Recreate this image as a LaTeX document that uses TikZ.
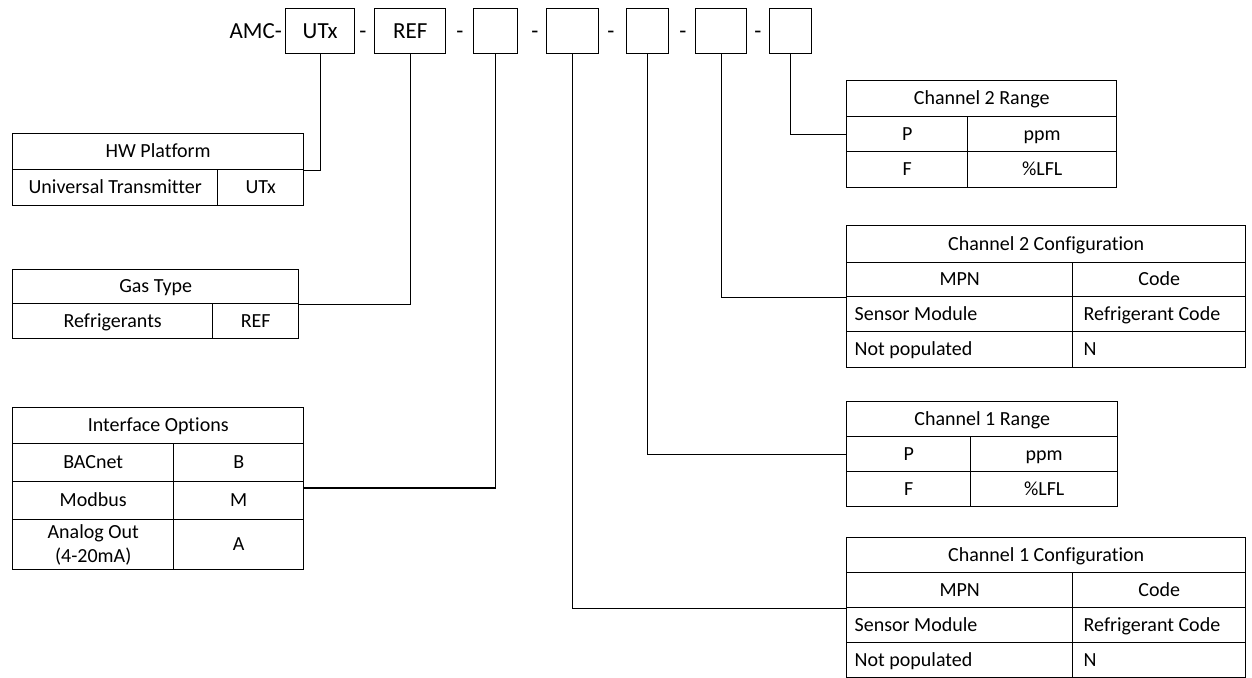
\documentclass[tikz,border=0pt]{standalone}
\usepackage{fontspec}
\setmainfont{Carlito}[Ligatures=NoCommon]

\begin{document}
\begin{tikzpicture}[
    x=1pt, y=-1pt,
    font=\fontsize{20}{24}\selectfont,
    slot/.style={rectangle, draw=black, line width=1.4pt, anchor=north west, inner sep=0pt, minimum height=45, font=\fontsize{23}{26}\selectfont},
    hyph/.style={inner sep=0pt, anchor=base, font=\fontsize{23}{26}\selectfont},
    cell/.style={rectangle, draw=black, line width=1.4pt, anchor=north west, inner sep=0pt, align=center, text height=15pt, text depth=3pt},
    tallcell/.style={rectangle, draw=black, line width=1.4pt, anchor=north west, inner sep=0pt, align=center},
    lcell/.style={cell, align=flush left},
    edge_style/.style={draw=black, line width=1.4pt}
]
\useasboundingbox (0,0) rectangle (1252,677);

% Part number
\node[hyph, anchor=base east] (amc) at (282, 38) {AMC-};
\node[slot, minimum width=69] (utx) at (285, 8) {UTx};
\node[hyph] (h1) at (363, 38) {-};
\node[slot, minimum width=71] (ref) at (374, 8) {REF};
\node[hyph] (h2) at (460, 38) {-};
\node[slot, minimum width=44] (ifslot) at (473, 8) {};
\node[hyph] (h3) at (535, 38) {-};
\node[slot, minimum width=52] (cfg1slot) at (546, 8) {};
\node[hyph] (h4) at (611, 38) {-};
\node[slot, minimum width=42] (rng1slot) at (626, 8) {};
\node[hyph] (h5) at (683, 38) {-};
\node[slot, minimum width=51] (cfg2slot) at (695, 8) {};
\node[hyph] (h6) at (758, 38) {-};
\node[slot, minimum width=42] (rng2slot) at (769, 8) {};

% HW platform
\node[cell, minimum width=291, minimum height=36] (hw) at (12, 133) {HW Platform};
\node[cell, minimum width=205, minimum height=36] (hwname) at (12, 169) {Universal Transmitter};
\node[cell, minimum width=86, minimum height=36] (hwcode) at (217, 169) {UTx};

% Gas type
\node[cell, minimum width=286, minimum height=34] (gas) at (12, 269) {Gas Type};
\node[cell, minimum width=200, minimum height=35] (gasname) at (12, 303) {Refrigerants};
\node[cell, minimum width=86, minimum height=35] (gascode) at (212, 303) {REF};

% Interface options
\node[cell, minimum width=291, minimum height=36] (iface) at (12, 407) {Interface Options};
\node[cell, minimum width=161, minimum height=38] (bac) at (12, 443) {BACnet};
\node[cell, minimum width=130, minimum height=38] (baccode) at (173, 443) {B};
\node[cell, minimum width=161, minimum height=38] (mod) at (12, 481) {Modbus};
\node[cell, minimum width=130, minimum height=38] (modcode) at (173, 481) {M};
\node[tallcell, minimum width=161, minimum height=50] (ana) at (12, 519) {Analog Out\\(4-20mA)};
\node[cell, minimum width=130, minimum height=50] (anacode) at (173, 519) {A};

% Channel 2 range
\node[cell, minimum width=270, minimum height=36] (rng2) at (846, 80) {Channel 2 Range};
\node[cell, minimum width=121, minimum height=35] (rng2p) at (846, 116) {P};
\node[cell, minimum width=149, minimum height=35] (rng2ppm) at (967, 116) {ppm};
\node[cell, minimum width=121, minimum height=36] (rng2f) at (846, 151) {F};
\node[cell, minimum width=149, minimum height=36] (rng2lfl) at (967, 151) {\%LFL};

% Channel 2 configuration
\node[cell, minimum width=399, minimum height=37] (cfg2) at (846, 225) {Channel 2 Configuration};
\node[cell, minimum width=226, minimum height=34] (cfg2mpn) at (846, 262) {MPN};
\node[cell, minimum width=173, minimum height=34] (cfg2code) at (1072, 262) {Code};
\node[lcell, minimum width=226, minimum height=35, text width=210pt] (cfg2sm) at (846, 296) {Sensor Module};
\node[lcell, minimum width=173, minimum height=35, text width=151pt] (cfg2rc) at (1072, 296) {Refrigerant Code};
\node[lcell, minimum width=226, minimum height=36, text width=210pt] (cfg2np) at (846, 331) {Not populated};
\node[lcell, minimum width=173, minimum height=36, text width=151pt] (cfg2n) at (1072, 331) {N};

% Channel 1 range
\node[cell, minimum width=271, minimum height=35] (rng1) at (846, 401) {Channel 1 Range};
\node[cell, minimum width=124, minimum height=35] (rng1p) at (846, 436) {P};
\node[cell, minimum width=147, minimum height=35] (rng1ppm) at (970, 436) {ppm};
\node[cell, minimum width=124, minimum height=35] (rng1f) at (846, 471) {F};
\node[cell, minimum width=147, minimum height=35] (rng1lfl) at (970, 471) {\%LFL};

% Channel 1 configuration
\node[cell, minimum width=399, minimum height=35] (cfg1) at (846, 537) {Channel 1 Configuration};
\node[cell, minimum width=226, minimum height=35] (cfg1mpn) at (846, 572) {MPN};
\node[cell, minimum width=173, minimum height=35] (cfg1code) at (1072, 572) {Code};
\node[lcell, minimum width=226, minimum height=35, text width=210pt] (cfg1sm) at (846, 607) {Sensor Module};
\node[lcell, minimum width=173, minimum height=35, text width=151pt] (cfg1rc) at (1072, 607) {Refrigerant Code};
\node[lcell, minimum width=226, minimum height=35, text width=210pt] (cfg1np) at (846, 642) {Not populated};
\node[lcell, minimum width=173, minimum height=35, text width=151pt] (cfg1n) at (1072, 642) {N};

% Connections
\draw[edge_style] (utx.south) |- (hw.south east);
\draw[edge_style] (ref.south) |- (gas.south east);
\draw[edge_style] (ifslot.south) |- ([yshift=-7pt]modcode.north east);
\draw[edge_style] (cfg1slot.south) |- (cfg1mpn.south west);
\draw[edge_style] (rng1slot.south) |- (rng1p.west);
\draw[edge_style] (cfg2slot.south) |- (cfg2mpn.south west);
\draw[edge_style] (rng2slot.south) |- (rng2p.west);

\end{tikzpicture}
\end{document}
